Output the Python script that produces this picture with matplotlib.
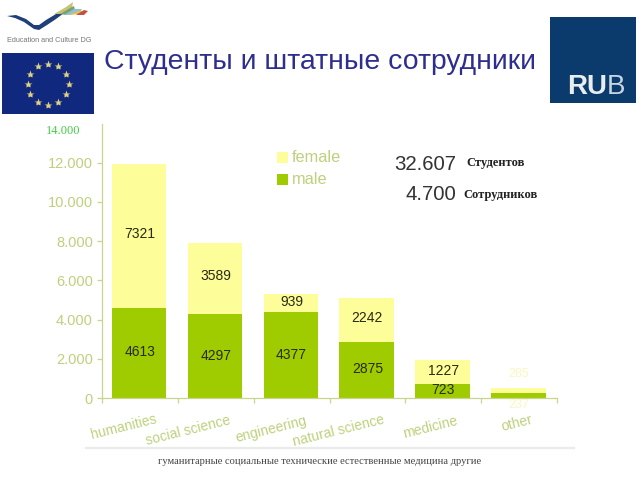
import matplotlib
matplotlib.use('Agg')
import matplotlib.pyplot as plt
from matplotlib.patches import Rectangle, Polygon
import numpy as np

categories = ['humanities', 'social science', 'engineering', 'natural science', 'medicine', 'other']
male = [4613, 4297, 4377, 2875, 723, 237]
female = [7321, 3589, 939, 2242, 1227, 285]
yticks = [0, 2000, 4000, 6000, 8000, 10000, 12000]
ytick_labels = ['0', '2.000', '4.000', '6.000', '8.000', '10.000', '12.000']
ru_labels = 'гуманитарные социальные технические естественные медицина другие'

W, H = 640, 480
GREEN = '#9fcc00'
YELLOW = '#fdfd99'
AXIS = '#c9d48c'
TICKTXT = '#bdd17c'
LABEL = '#2a2a10'
FAINT = '#f8f8c4'

plt.rcParams['font.family'] = ['Liberation Sans', 'DejaVu Sans']


def px(x, y):
    return x / W, 1 - y / H


fig = plt.figure(figsize=(6.4, 4.8), dpi=100, facecolor='white')

# chart
ax = fig.add_axes([102 / W, 1 - 398 / H, (557 - 102) / W, (398 - 123.5) / H])
x = np.arange(len(categories))
ax.bar(x - 0.01, male, width=0.72, color=GREEN)
ax.bar(x - 0.01, female, width=0.72, bottom=male, color=YELLOW)
ax.set_xlim(-0.5, 5.5)
ax.set_ylim(0, 14000)
ax.set_yticks(yticks)
ax.set_yticklabels(ytick_labels, fontsize=10.5, color=TICKTXT)
ax.set_xticks(np.arange(7) - 0.5)
ax.set_xticklabels([])
ax.tick_params(axis='both', color=AXIS, length=3.5, width=0.9)
ax.tick_params(axis='y', direction='out', pad=3)
for s in ['top', 'right']:
    ax.spines[s].set_visible(False)
for s in ['left', 'bottom']:
    ax.spines[s].set_color(AXIS)
    ax.spines[s].set_linewidth(0.9)

# value labels, placed by hand like the original slide
male_y = [2350, 2140, 2190, 1480, 410]
female_y = [8360, 6220, 4900, 4080, 1380]
for i in range(5):
    ax.text(i, male_y[i], str(male[i]), ha='center', va='center', fontsize=10, color=LABEL)
    ax.text(i, female_y[i], str(female[i]), ha='center', va='center', fontsize=10, color=LABEL)
ax.text(5, 1220, str(female[5]), ha='center', va='center', fontsize=9, color=FAINT)
ax.text(5, -350, str(male[5]), ha='center', va='center', fontsize=9, color=FAINT)

# category labels, slanted
label_pos = [(124, 427), (188, 431), (271, 429), (339, 431), (430, 427), (517, 423)]
for name, (lx, ly) in zip(categories, label_pos):
    fig.text(lx / W, 1 - ly / H, name, rotation=14, ha='center', va='center',
             fontsize=10, color=TICKTXT, rotation_mode='anchor')

# 14.000 is a separate green serif label
fig.text(63.5 / W, 1 - 130.5 / H, '14.000', ha='center', va='center', fontsize=9,
         color='#44cc44', family='Liberation Serif')

# legend
for yy, c, name in [(157.5, YELLOW, 'female'), (179.5, GREEN, 'male')]:
    fig.add_artist(Rectangle((277 / W, 1 - (yy + 5.5) / H), 11 / W, 11 / H, transform=fig.transFigure,
                             facecolor=c, edgecolor='none'))
    fig.text(292 / W, 1 - yy / H, name, ha='left', va='center', fontsize=11.7, color=TICKTXT)

# totals
fig.text(456 / W, 1 - 165 / H, '32.607', ha='right', va='center', fontsize=14.7, color='#333333')
fig.text(456 / W, 1 - 195 / H, '4.700', ha='right', va='center', fontsize=14.7, color='#333333')
fig.text(466 / W, 1 - 163 / H, 'Студентов', ha='left', va='center', fontsize=9,
         fontweight='bold', family='Liberation Serif', color='#222222')
fig.text(463 / W, 1 - 195 / H, 'Сотрудников', ha='left', va='center', fontsize=9,
         fontweight='bold', family='Liberation Serif', color='#222222')

# title
fig.text(104 / W, 1 - 69 / H, 'Студенты и штатные сотрудники', ha='left', va='baseline',
         fontsize=20.4, color='#2e2e8f')

# bottom rule and russian categories
fig.add_artist(plt.Line2D([86 / W, 574 / W], [1 - 447.5 / H] * 2, transform=fig.transFigure,
                          color='#ebebeb', lw=1.6))
fig.text(320 / W, 1 - 462 / H, ru_labels, ha='center', va='center', fontsize=7.55,
         family='Liberation Serif', color='#444444')

# EU flag
fig.add_artist(Rectangle((2 / W, 1 - 114 / H), 92 / W, 61 / H, transform=fig.transFigure,
                         facecolor='#10297f', edgecolor='none'))
ang = np.arange(12) * np.pi / 6
fig.add_artist(plt.Line2D((48 + 20.5 * np.cos(ang)) / W, 1 - (84 + 20.5 * np.sin(ang)) / H,
                          transform=fig.transFigure, ls='none', marker='*', ms=6,
                          mfc='#e0d080', mec='none'))

# RUB logo
fig.add_artist(Rectangle((550 / W, 1 - 103 / H), 86 / W, 86 / H, transform=fig.transFigure,
                         facecolor='#0b3a6c', edgecolor='none'))
fig.text(567 / W, 1 - 94 / H, 'RU', ha='left', va='baseline', fontsize=20, fontweight='bold',
         color='#e8eef0')
fig.text(607 / W, 1 - 94 / H, 'B', ha='left', va='baseline', fontsize=20, color='#c8d6e2')

# education and culture logo
swoosh = [(7, 16), (16, 15), (26, 19), (34, 25), (39, 25), (46, 20), (56, 14), (64, 13), (56, 19),
          (47, 25), (39, 30), (34, 29), (24, 22), (15, 18)]
fig.add_artist(Polygon([px(a, b) for a, b in swoosh], transform=fig.transFigure,
                       facecolor='#1f3f78', edgecolor='none'))
ribbons = [('#c9c27a', [(54, 14), (66, 7), (73, 2), (72, 8), (62, 14)]),
           ('#7aa36a', [(60, 14), (70, 8), (74, 6), (75, 10), (66, 15)]),
           ('#8ec0d8', [(64, 15), (74, 9), (82, 9), (80, 12), (70, 15)]),
           ('#e0c050', [(68, 15), (78, 11), (84, 11), (80, 14)]),
           ('#c85040', [(76, 15), (84, 10), (88, 11), (84, 15)])]
for col, pts in ribbons:
    fig.add_artist(Polygon([px(a, b) for a, b in pts], transform=fig.transFigure,
                           facecolor=col, edgecolor='none'))
fig.text(49 / W, 1 - 40 / H, 'Education and Culture DG', ha='center', va='center', fontsize=5.2,
         color='#777777')

fig.savefig('out.png', dpi=100)
